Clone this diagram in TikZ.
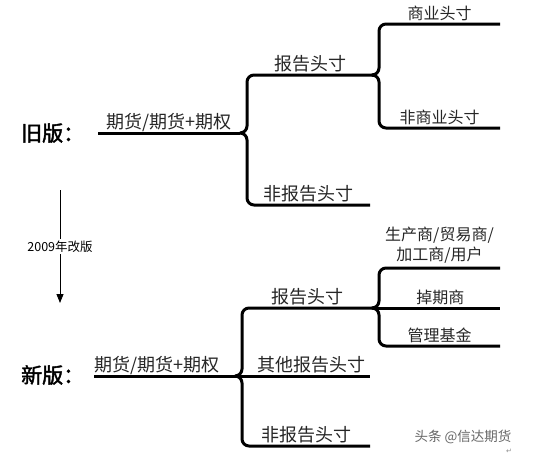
\documentclass[tikz,border=0pt]{standalone}
\usepackage{fontspec}
\newfontfamily\cjk{Noto Sans CJK SC}
\newfontfamily\cjkbold[FakeBold=2]{Noto Sans CJK SC}
\newfontfamily\symfont{DejaVu Sans}
\usetikzlibrary{arrows.meta}
\tikzset{
  branch/.style={line width=3pt,rounded corners=7pt},
  lvltwo/.style={font=\cjk\fontsize{18}{20}\selectfont,anchor=base,yshift=4.8pt,
    inner sep=0pt,text=black!85},
  lvlthree/.style={lvltwo,font=\cjk\fontsize{16}{20}\selectfont},
  version/.style={font=\cjkbold\fontsize{21}{21}\selectfont,anchor=west,inner sep=0pt},
  change/.style={-{Triangle[width=7pt,length=9pt]},line width=0.8pt},
  note/.style={font=\cjk\fontsize{12.5}{13}\selectfont,fill=white,inner sep=1.5pt},
  wmark/.style={font=\cjk\fontsize{13.5}{14}\selectfont,text=black!60,inner sep=0pt}
}
\begin{document}
\begin{tikzpicture}[x=1pt,y=-1pt]
  \useasboundingbox (0,0) rectangle (548,455);

  % old version
  \coordinate (o-root-w) at (98,133);
  \coordinate (o-root-e) at (240,133);
  \coordinate (o-rep-w) at (247,75);
  \coordinate (o-rep-e) at (373,75);
  \coordinate (o-nrep-w) at (247,205);
  \coordinate (o-nrep-e) at (370,205);
  \coordinate (o-com-w) at (379,24);
  \coordinate (o-com-e) at (500,24);
  \coordinate (o-ncom-w) at (379,128);
  \coordinate (o-ncom-e) at (500,128);

  \node[version] (old) at (21,133) {旧版：};
  \draw[branch] (o-root-w) -- node[lvltwo] {期货/期货+期权} (o-root-e);
  \draw[branch] (o-root-e) -| (o-rep-w) -- node[lvltwo] {报告头寸} (o-rep-e);
  \draw[branch] (o-root-e) -| (o-nrep-w) -- node[lvltwo] {非报告头寸} (o-nrep-e);
  \draw[branch] (o-rep-e) -| (o-com-w) -- node[lvlthree] {商业头寸} (o-com-e);
  \draw[branch] (o-rep-e) -| (o-ncom-w) -- node[lvlthree] {非商业头寸} (o-ncom-e);

  % change arrow
  \coordinate (arr-top) at (60,190);
  \coordinate (arr-bot) at (60,303);
  \draw[change] (arr-top) -- node[note] (year) {2009年改版} (arr-bot);

  % new version
  \coordinate (n-root-w) at (94,376);
  \coordinate (n-root-e) at (235,376);
  \coordinate (n-rep-w) at (242,308);
  \coordinate (n-rep-e) at (373,308);
  \coordinate (n-oth-e) at (370,376);
  \coordinate (n-nrep-w) at (242,446);
  \coordinate (n-nrep-e) at (370,446);
  \coordinate (n-pro-w) at (379,268);
  \coordinate (n-pro-e) at (500,268);
  \coordinate (n-swap-e) at (500,308);
  \coordinate (n-fund-w) at (379,346);
  \coordinate (n-fund-e) at (500,346);

  \node[version] (new) at (21,375) {新版：};
  \draw[branch] (n-root-w) -- node[lvltwo,pos=.45] {期货/期货+期权} (n-root-e);
  \draw[branch] (n-root-e) -| (n-rep-w) -- node[lvltwo] {报告头寸} (n-rep-e);
  \draw[branch] (n-root-e) -- node[lvltwo,pos=.57] {其他报告头寸} (n-oth-e);
  \draw[branch] (n-root-e) -| (n-nrep-w) -- node[lvltwo] {非报告头寸} (n-nrep-e);
  \draw[branch] (n-rep-e) -| (n-pro-w) -- node[lvlthree,align=center,yshift=3pt] {生产商/贸易商/\\加工商/用户} (n-pro-e);
  \draw[branch] (n-rep-e) -- node[lvlthree,pos=.53] {掉期商} (n-swap-e);
  \draw[branch] (n-rep-e) -| (n-fund-w) -- node[lvlthree] {管理基金} (n-fund-e);

  % watermark
  \node[wmark] (wm) at (463,437) {头条 @信达期货};
  \node[wmark,font=\symfont\fontsize{7}{7}\selectfont,text=black!45] (ret) at (509,451) {↵};
\end{tikzpicture}
\end{document}
